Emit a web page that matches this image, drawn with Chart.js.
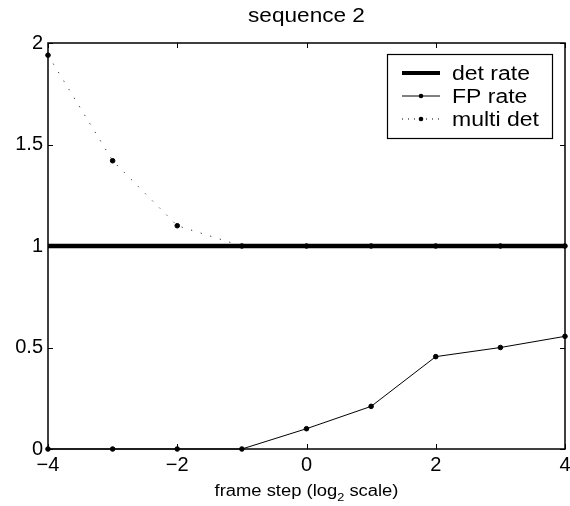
<!DOCTYPE html>
<html>
<head>
<meta charset="utf-8">
<script src="https://cdn.jsdelivr.net/npm/chart.js@4"></script>
<style>
  html, body { margin: 0; padding: 0; background: #fff; }
  #wrap { width: 570px; height: 506px; }
</style>
</head>
<body>
<div id="wrap"><canvas id="seqChart"></canvas></div>
<script>
// ===== data =====
const frameSteps = [-4, -3, -2, -1, 0, 1, 2, 3, 4];
const detRate = [1, 1, 1, 1, 1, 1, 1, 1, 1];
const fpRate = [0, 0, 0, 0, 0.1, 0.21, 0.455, 0.5, 0.555];
const multiDet = [1.94, 1.42, 1.10, 1, 1, 1, 1, 1, 1];
const xTicks = [-4, -2, 0, 2, 4];
const yTicks = [0, 0.5, 1, 1.5, 2];

const FONT = "'Liberation Sans', Arial, Helvetica, sans-serif";

function toPoints(ys) {
  return frameSteps.map((x, i) => ({ x: x, y: ys[i] }));
}

// text drawn a bit wider than the font, like the original figure
function wideText(ctx, txt, x, y, size, stretch) {
  ctx.save();
  ctx.font = size + "px " + FONT;
  ctx.translate(x, y);
  ctx.scale(stretch, 1);
  ctx.fillText(txt, 0, 0);
  ctx.restore();
}
function wideWidth(ctx, txt, size, stretch) {
  ctx.save();
  ctx.font = size + "px " + FONT;
  const w = ctx.measureText(txt).width * stretch;
  ctx.restore();
  return w;
}

// inward ticks, full box, title, axis label, legend
const boxPlugin = {
  id: "boxTicks",
  afterDatasetsDraw(chart) {
    const { ctx, chartArea: a, scales } = chart;
    ctx.save();
    ctx.strokeStyle = "#000";
    ctx.lineWidth = 1.5;
    ctx.strokeRect(a.left, a.top, a.right - a.left, a.bottom - a.top);
    ctx.lineWidth = 1;
    ctx.beginPath();
    xTicks.forEach(v => {
      const px = Math.round(scales.x.getPixelForValue(v)) + 0.5;
      ctx.moveTo(px, a.bottom); ctx.lineTo(px, a.bottom - 5);
      ctx.moveTo(px, a.top); ctx.lineTo(px, a.top + 5);
    });
    yTicks.forEach(v => {
      const py = Math.round(scales.y.getPixelForValue(v)) + 0.5;
      ctx.moveTo(a.left, py); ctx.lineTo(a.left + 5, py);
      ctx.moveTo(a.right, py); ctx.lineTo(a.right - 5, py);
    });
    ctx.stroke();
    ctx.restore();
  },
  afterDraw(chart) {
    const { ctx, chartArea: a } = chart;
    const cx = (a.left + a.right) / 2;
    ctx.save();
    ctx.fillStyle = "#000";
    ctx.textBaseline = "alphabetic";
    ctx.textAlign = "left";

    // title
    const tw = wideWidth(ctx, "sequence 2", 20, 1.13);
    wideText(ctx, "sequence 2", cx - tw / 2, 22, 20, 1.13);

    // x axis label with subscript
    const p1 = "frame step (log", p3 = " scale)";
    const w1 = wideWidth(ctx, p1, 16, 1.15);
    const w2 = wideWidth(ctx, "2", 11, 1.15);
    const w3 = wideWidth(ctx, p3, 16, 1.15);
    let x = cx - (w1 + w2 + w3) / 2;
    wideText(ctx, p1, x, 496, 16, 1.15);
    x += w1;
    wideText(ctx, "2", x, 501, 11, 1.15);
    x += w2;
    wideText(ctx, p3, x, 496, 16, 1.15);

    // legend box inside the plot
    const lx = 387, ly = 54, lw = 165, lh = 84;
    ctx.fillStyle = "#fff";
    ctx.fillRect(lx, ly, lw, lh);
    ctx.strokeStyle = "#000";
    ctx.lineWidth = 1.2;
    ctx.strokeRect(lx + 0.5, ly + 0.5, lw, lh);
    const rows = [
      { label: "det rate", width: 4, dash: [], marker: false },
      { label: "FP rate", width: 1, dash: [], marker: true },
      { label: "multi det", width: 1, dash: [1, 5], marker: true }
    ];
    rows.forEach((r, i) => {
      const ry = 73 + i * 23;
      ctx.beginPath();
      ctx.lineWidth = r.width;
      ctx.setLineDash(r.dash);
      ctx.moveTo(402, ry); ctx.lineTo(440, ry);
      ctx.stroke();
      ctx.setLineDash([]);
      ctx.fillStyle = "#000";
      if (r.marker) {
        ctx.beginPath();
        ctx.arc(421, ry, 2.3, 0, Math.PI * 2);
        ctx.fill();
      }
      wideText(ctx, r.label, 452, ry + 7, 20, 1.15);
    });
    ctx.restore();
  }
};

new Chart(document.getElementById("seqChart"), {
  type: "line",
  data: {
    datasets: [
      {
        label: "det rate",
        data: toPoints(detRate),
        borderColor: "#000",
        backgroundColor: "#000",
        borderWidth: 4.5,
        pointRadius: 0,
        order: 0
      },
      {
        label: "FP rate",
        data: toPoints(fpRate),
        borderColor: "#000",
        backgroundColor: "#000",
        borderWidth: 1,
        pointRadius: 2.3,
        order: 1
      },
      {
        label: "multi det",
        data: toPoints(multiDet),
        borderColor: "#000",
        backgroundColor: "#000",
        borderWidth: 1,
        borderDash: [1, 9],
        pointRadius: 2.3,
        order: 2
      }
    ]
  },
  options: {
    responsive: true,
    maintainAspectRatio: false,
    animation: false,
    clip: false,
    layout: { padding: { left: 0, right: 5, top: 43, bottom: 0 } },
    plugins: {
      legend: { display: false },
      tooltip: { enabled: false },
      title: { display: false }
    },
    scales: {
      x: {
        type: "linear",
        min: -4,
        max: 4,
        afterFit: s => { s.height = 57; s.paddingLeft = 0; s.paddingRight = 0; },
        afterBuildTicks: s => { s.ticks = xTicks.map(v => ({ value: v })); },
        grid: { display: false, drawTicks: false },
        border: { display: false },
        ticks: {
          color: "#000",
          padding: 4,
          maxRotation: 0,
          font: { family: FONT, size: 20 },
          callback: v => String(v).replace("-", "\u2212")
        }
      },
      y: {
        min: 0,
        max: 2,
        afterFit: s => { s.width = 48; s.paddingTop = 0; s.paddingBottom = 0; },
        afterBuildTicks: s => { s.ticks = yTicks.map(v => ({ value: v })); },
        grid: { display: false, drawTicks: false },
        border: { display: false },
        ticks: {
          color: "#000",
          padding: 5,
          font: { family: FONT, size: 20 },
          callback: v => String(v)
        }
      }
    }
  },
  plugins: [boxPlugin]
});
</script>
</body>
</html>
